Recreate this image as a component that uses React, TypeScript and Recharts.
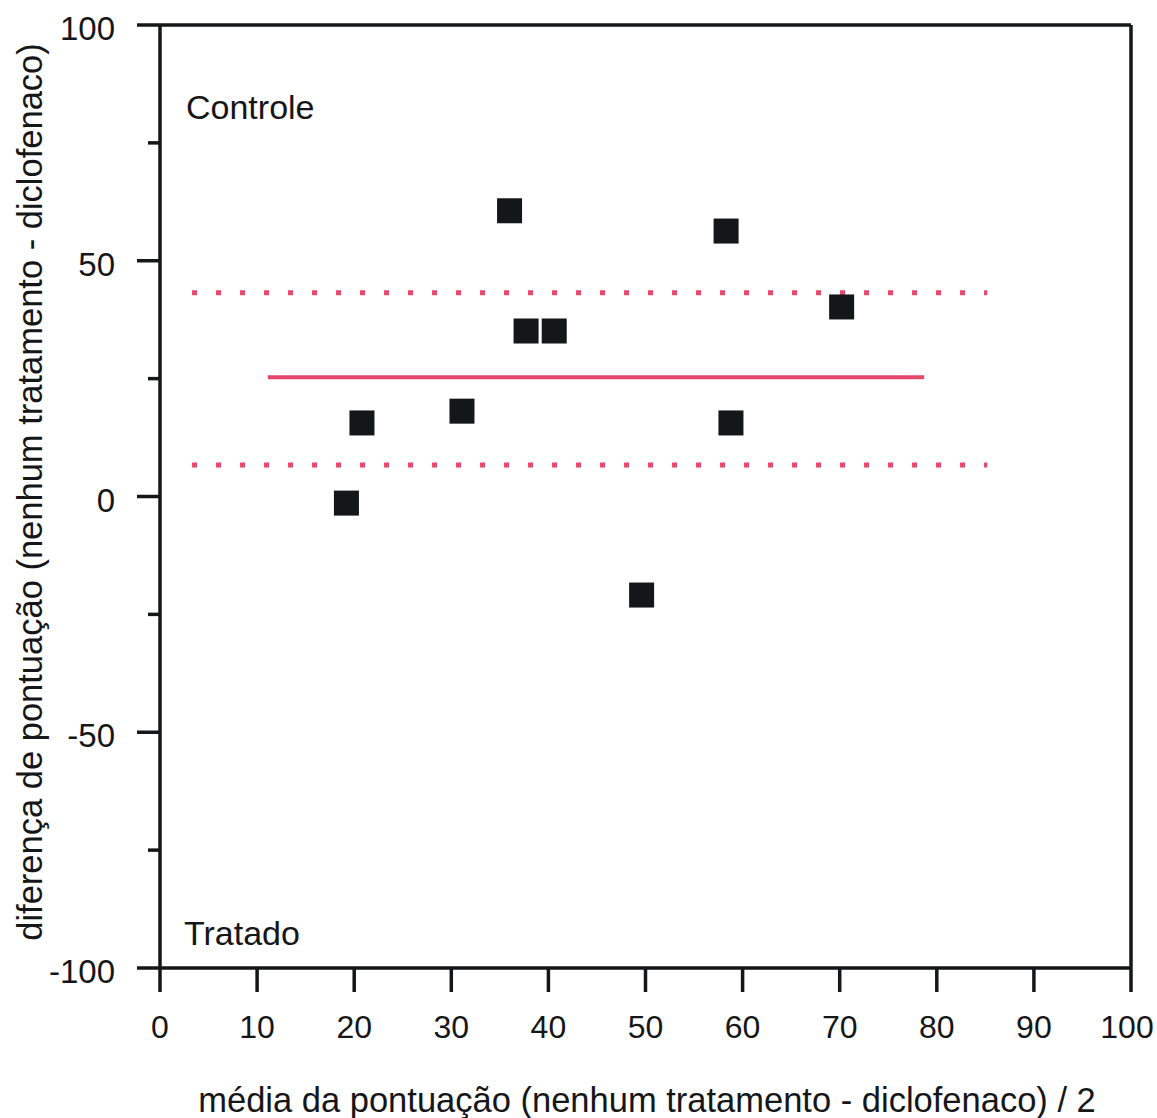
import { ScatterChart, Scatter, XAxis, YAxis, ReferenceLine } from 'recharts';

document.body.style.margin = '0';

const FONT = '"Liberation Sans", Arial, sans-serif';
const INK = '#151617';
const RED = '#e6476b';

// mean of the two scores (x) and difference (y) per patient
const meanScores = [19.2, 20.8, 31.1, 36.0, 37.7, 40.6, 49.6, 58.3, 58.8, 70.2];
const scoreDiffs = [-1.4, 15.6, 18.1, 60.6, 35.1, 35.1, -20.9, 56.3, 15.6, 40.2];

const xTicks = [0, 10, 20, 30, 40, 50, 60, 70, 80, 90, 100];
const yTicks = [-100, -75, -50, -25, 0, 25, 50, 75, 100];
const yLabelTicks = [-100, -50, 0, 50, 100];

// bias and limits of agreement
const biasValue = 25.3;
const biasRange = [11.1, 78.7];
const upperLimit = 43.2;
const lowerLimit = 6.7;
const limitRange = [3.3, 85.2];

const points = meanScores.map((x, i) => ({ x, y: scoreDiffs[i] }));

const Y_AXIS_W = 160;

function YTick(props: any) {
  const { y, payload } = props;
  const major = yLabelTicks.includes(payload.value);
  return (
    <g>
      <line x1={Y_AXIS_W - (major ? 23 : 12)} x2={Y_AXIS_W} y1={y} y2={y} stroke={INK} strokeWidth={3.5} />
      {major && (
        <text x={115} y={y + 3.5} dy="0.355em" textAnchor="end" fontSize={33} fontFamily={FONT} fill={INK}>
          {payload.value}
        </text>
      )}
    </g>
  );
}

function XTick(props: any) {
  const { x, y, payload } = props;
  const shift = payload.value === 100 ? -4 : 0;
  return (
    <text x={x + shift} y={y} dy="0.71em" textAnchor="middle" fontSize={32} fontFamily={FONT} fill={INK}>
      {payload.value}
    </text>
  );
}

function SquareDot(props: any) {
  const { cx, cy } = props;
  return <rect x={cx - 12.5} y={cy - 12.5} width={25} height={25} fill={INK} />;
}

export default function App() {
  return (
    <ScatterChart width={1157} height={1118} margin={{ top: 25, right: 26, bottom: 0, left: 0 }}>
      <XAxis
        type="number"
        dataKey="x"
        domain={[0, 100]}
        ticks={xTicks}
        interval={0}
        tickSize={24}
        tickMargin={23}
        height={150}
        axisLine={{ stroke: INK, strokeWidth: 3.5 }}
        tickLine={{ stroke: INK, strokeWidth: 3.5 }}
        tick={<XTick />}
      />
      <YAxis
        type="number"
        dataKey="y"
        domain={[-100, 100]}
        ticks={yTicks}
        interval={0}
        width={Y_AXIS_W}
        tickLine={false}
        axisLine={{ stroke: INK, strokeWidth: 3.5 }}
        tick={<YTick />}
      />
      <ReferenceLine y={100} stroke={INK} strokeWidth={3.5} />
      <ReferenceLine x={100} stroke={INK} strokeWidth={3.5} />
      <ReferenceLine
        segment={[{ x: limitRange[0], y: upperLimit }, { x: limitRange[1], y: upperLimit }]}
        stroke={RED}
        strokeWidth={5}
        strokeDasharray="5 19"
      />
      <ReferenceLine
        segment={[{ x: limitRange[0], y: lowerLimit }, { x: limitRange[1], y: lowerLimit }]}
        stroke={RED}
        strokeWidth={5}
        strokeDasharray="5 19"
      />
      <ReferenceLine
        segment={[{ x: biasRange[0], y: biasValue }, { x: biasRange[1], y: biasValue }]}
        stroke={RED}
        strokeWidth={4}
      />
      <Scatter data={points} shape={<SquareDot />} isAnimationActive={false} />
      <text x={186} y={119} fontSize={34} fontFamily={FONT} fill={INK}>Controle</text>
      <text x={184} y={945} fontSize={34} fontFamily={FONT} fill={INK}>Tratado</text>
      <text x={647} y={1112} textAnchor="middle" fontSize={34.5} fontFamily={FONT} fill={INK}>
        média da pontuação (nenhum tratamento - diclofenaco) / 2
      </text>
      <text
        x={42}
        y={492}
        transform="rotate(-90 42 492)"
        textAnchor="middle"
        fontSize={34.5}
        fontFamily={FONT}
        fill={INK}
      >
        diferença de pontuação (nenhum tratamento - diclofenaco)
      </text>
    </ScatterChart>
  );
}
